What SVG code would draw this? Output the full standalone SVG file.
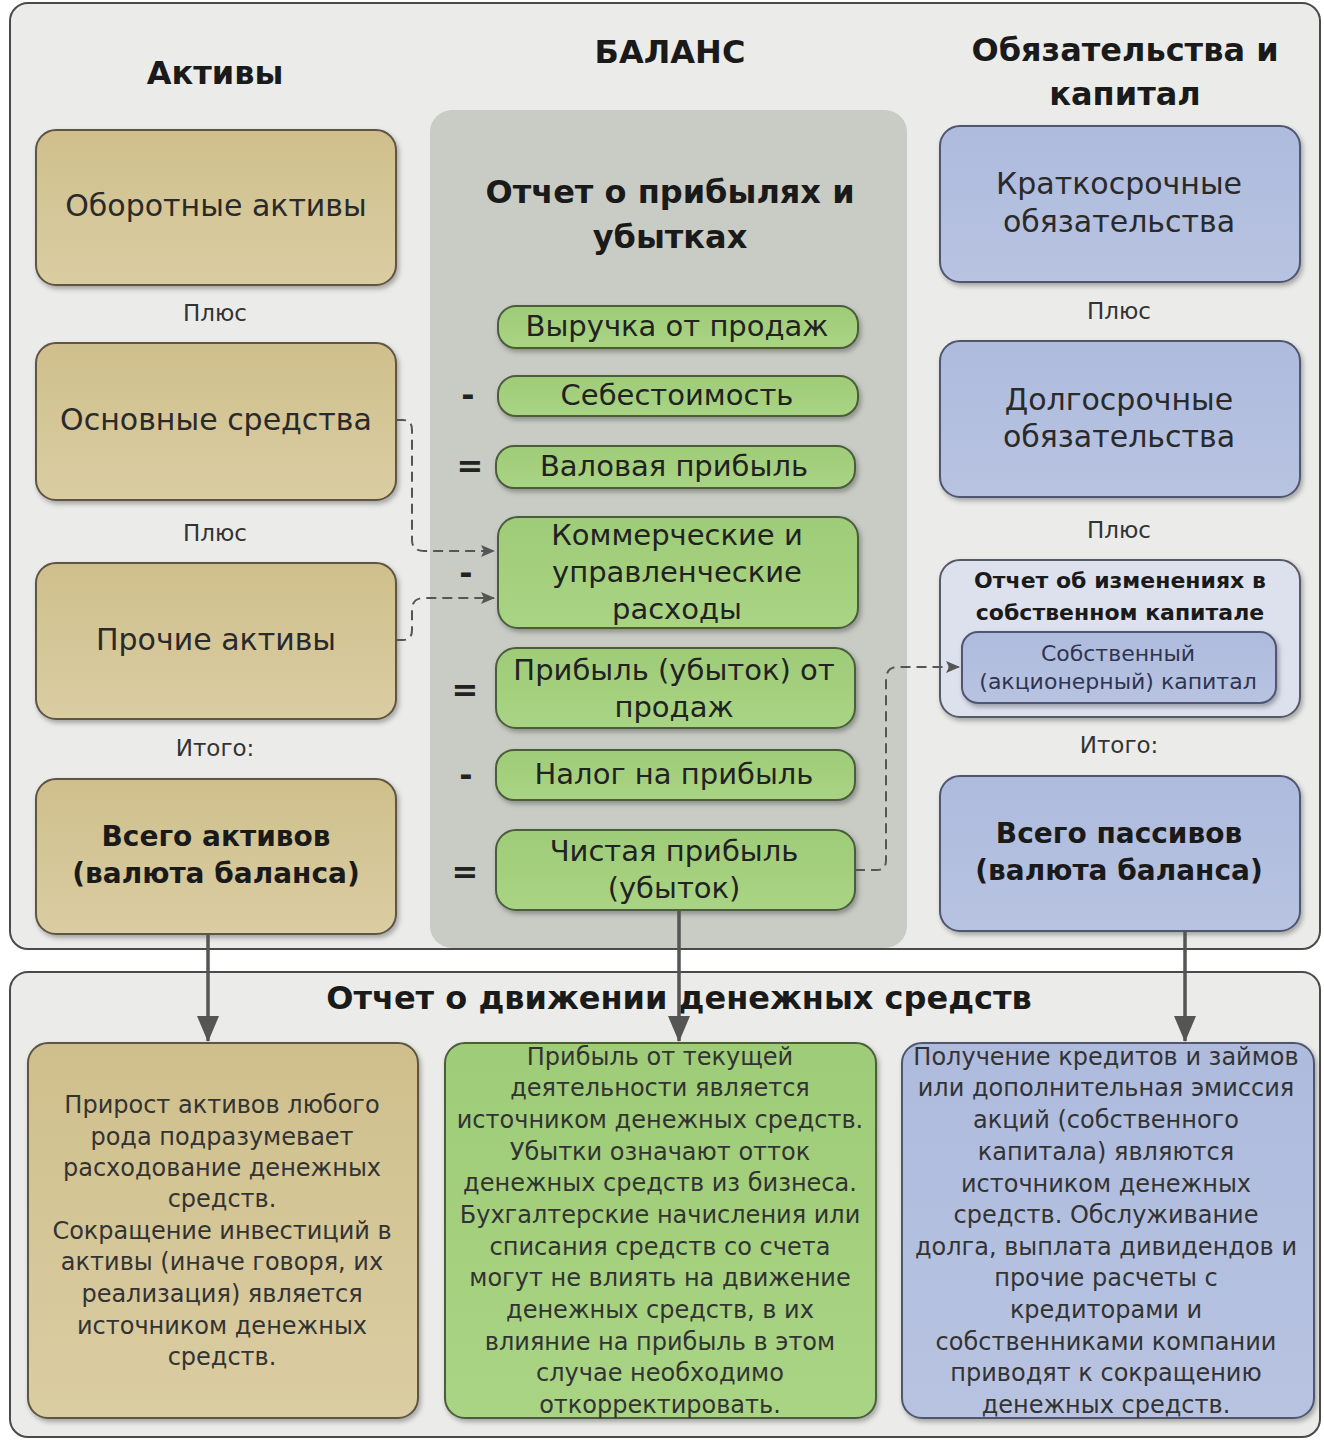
<svg xmlns="http://www.w3.org/2000/svg" width="1324" height="1440" viewBox="0 0 1324 1440">
<defs>
<filter id="sh" x="-10%" y="-10%" width="125%" height="130%">
<feDropShadow dx="2" dy="3" stdDeviation="2.5" flood-color="#000" flood-opacity="0.3"/>
</filter>
<linearGradient id="tan" x1="0" y1="0" x2="0" y2="1">
<stop offset="0" stop-color="#cfbf8c"/><stop offset="1" stop-color="#dacda2"/>
</linearGradient>
<linearGradient id="grn" x1="0" y1="0" x2="0" y2="1">
<stop offset="0" stop-color="#9fcc78"/><stop offset="1" stop-color="#a9d484"/>
</linearGradient>
<linearGradient id="blu" x1="0" y1="0" x2="0" y2="1">
<stop offset="0" stop-color="#aebbdd"/><stop offset="1" stop-color="#b8c3e1"/>
</linearGradient>
<marker id="ah" markerUnits="userSpaceOnUse" markerWidth="26" markerHeight="22" refX="25" refY="11" orient="auto" viewBox="0 0 26 22">
<path d="M0,0 L26,11 L0,22 Z" fill="#555"/>
</marker>
<marker id="dh" markerUnits="userSpaceOnUse" markerWidth="14" markerHeight="12" refX="13" refY="6" orient="auto" viewBox="0 0 14 12">
<path d="M0,0 L14,6 L0,12 L3,6 Z" fill="#555"/>
</marker>
</defs>
<style>
text{font-family:"DejaVu Sans","Noto Sans",sans-serif;text-anchor:middle;fill:#262626}
.h{font-weight:bold;font-size:32px;fill:#1a1a1a}
.bx{font-size:30px;fill:#2a2a2a}
.bb{font-weight:bold;font-size:28px;fill:#1a1a1a}
.sm{font-size:23px;fill:#333}
.pl{font-size:29px;fill:#222}
.op{font-weight:bold;font-size:32px;fill:#222}
.tx{font-size:24px;fill:#333}
.eqb{font-weight:bold;font-size:22px;fill:#1a1a1a}
.eqs{font-size:22px;fill:#2f3550}
.tan{fill:url(#tan);stroke:#5e5443;stroke-width:2;filter:url(#sh)}
.grn{fill:url(#grn);stroke:#4b5d3d;stroke-width:2;filter:url(#sh)}
.blu{fill:url(#blu);stroke:#4f5670;stroke-width:2;filter:url(#sh)}
.dash{fill:none;stroke:#555;stroke-width:2;stroke-dasharray:10 6}
.solid{fill:none;stroke:#555;stroke-width:3.5}
</style>
<rect width="1324" height="1440" fill="#fff"/>
<g id="balance-panel">
<rect x="10" y="3" width="1310" height="946" rx="18" fill="#ebece9" stroke="#4a4a4a" stroke-width="2"/>
<text class="h" x="215" y="84">Активы</text>
<text class="h" x="670" y="63">БАЛАНС</text>
<text class="h" x="1125" y="61">Обязательства и</text>
<text class="h" x="1125" y="105">капитал</text>
</g>
<g id="pnl-panel">
<rect x="430" y="110" width="477" height="838" rx="22" fill="#c9ccc5"/>
<text class="h" x="670" y="203">Отчет о прибылях и</text>
<text class="h" x="670" y="248">убытках</text>
</g>
<g id="cash-panel">
<rect x="10" y="972" width="1310" height="465" rx="18" fill="#ebece9" stroke="#4a4a4a" stroke-width="2"/>
<text class="h" x="679" y="1009">Отчет о движении денежных средств</text>
</g>
<g id="current-assets">
<rect class="tan" x="36" y="130" width="360" height="155" rx="20"/>
<text class="bx" x="216" y="216">Оборотные активы</text>
</g>
<text class="sm" x="215" y="321">Плюс</text>
<g id="fixed-assets">
<rect class="tan" x="36" y="343" width="360" height="157" rx="20"/>
<text class="bx" x="216" y="430">Основные средства</text>
</g>
<text class="sm" x="215" y="541">Плюс</text>
<g id="other-assets">
<rect class="tan" x="36" y="563" width="360" height="156" rx="20"/>
<text class="bx" x="216" y="650">Прочие активы</text>
</g>
<text class="sm" x="215" y="756">Итого:</text>
<g id="total-assets">
<rect class="tan" x="36" y="779" width="360" height="155" rx="20"/>
<text class="bb" x="216" y="846">Всего активов</text>
<text class="bb" x="216" y="883">(валюта баланса)</text>
</g>
<g id="short-liab">
<rect class="blu" x="940" y="126" width="360" height="156" rx="20"/>
<text class="bx" x="1119" y="194">Краткосрочные</text>
<text class="bx" x="1119" y="232">обязательства</text>
</g>
<text class="sm" x="1119" y="319">Плюс</text>
<g id="long-liab">
<rect class="blu" x="940" y="341" width="360" height="156" rx="20"/>
<text class="bx" x="1119" y="410">Долгосрочные</text>
<text class="bx" x="1119" y="447">обязательства</text>
</g>
<text class="sm" x="1119" y="538">Плюс</text>
<g id="equity-statement">
<rect x="940" y="560" width="360" height="157" rx="20" fill="#dde1ee" stroke="#555a66" stroke-width="2" filter="url(#sh)"/>
<text class="eqb" x="1120" y="588">Отчет об изменениях в</text>
<text class="eqb" x="1120" y="620">собственном капитале</text>
</g>
<g id="equity">
<rect class="blu" x="962" y="632" width="314" height="71" rx="16"/>
<text class="eqs" x="1118" y="661">Собственный</text>
<text class="eqs" x="1118" y="689">(акционерный) капитал</text>
</g>
<text class="sm" x="1119" y="753">Итого:</text>
<g id="total-liab">
<rect class="blu" x="940" y="776" width="360" height="155" rx="20"/>
<text class="bb" x="1119" y="843">Всего пассивов</text>
<text class="bb" x="1119" y="880">(валюта баланса)</text>
</g>
<g id="revenue">
<rect class="grn" x="498" y="306" width="360" height="42" rx="18"/>
<text class="pl" x="677" y="336">Выручка от продаж</text>
</g>
<g id="cogs">
<text class="op" x="468" y="406">-</text>
<rect class="grn" x="498" y="376" width="360" height="40" rx="18"/>
<text class="pl" x="677" y="405">Себестоимость</text>
</g>
<g id="gross">
<text class="op" x="470" y="477">=</text>
<rect class="grn" x="496" y="446" width="359" height="42" rx="18"/>
<text class="pl" x="674" y="476">Валовая прибыль</text>
</g>
<g id="sga">
<text class="op" x="466" y="584">-</text>
<rect class="grn" x="498" y="517" width="360" height="111" rx="20"/>
<text class="pl" x="677" y="545">Коммерческие и</text>
<text class="pl" x="677" y="582">управленческие</text>
<text class="pl" x="677" y="619">расходы</text>
</g>
<g id="op-profit">
<text class="op" x="465" y="701">=</text>
<rect class="grn" x="496" y="648" width="359" height="80" rx="20"/>
<text class="pl" x="674" y="680">Прибыль (убыток) от</text>
<text class="pl" x="674" y="717">продаж</text>
</g>
<g id="tax">
<text class="op" x="466" y="786">-</text>
<rect class="grn" x="496" y="750" width="359" height="50" rx="18"/>
<text class="pl" x="674" y="784">Налог на прибыль</text>
</g>
<g id="net-profit">
<text class="op" x="465" y="883">=</text>
<rect class="grn" x="496" y="830" width="359" height="80" rx="20"/>
<text class="pl" x="674" y="861">Чистая прибыль</text>
<text class="pl" x="674" y="898">(убыток)</text>
</g>
<g id="cf-assets">
<rect class="tan" x="28" y="1043" width="390" height="375" rx="20"/>
<text class="tx" x="222" y="1113">Прирост активов любого</text>
<text class="tx" x="222" y="1145">рода подразумевает</text>
<text class="tx" x="222" y="1176">расходование денежных</text>
<text class="tx" x="222" y="1207">средств.</text>
<text class="tx" x="222" y="1239">Сокращение инвестиций в</text>
<text class="tx" x="222" y="1270">активы (иначе говоря, их</text>
<text class="tx" x="222" y="1302">реализация) является</text>
<text class="tx" x="222" y="1334">источником денежных</text>
<text class="tx" x="222" y="1365">средств.</text>
</g>
<g id="cf-profit">
<rect class="grn" x="445" y="1043" width="431" height="375" rx="20"/>
<text class="tx" x="660" y="1065">Прибыль от текущей</text>
<text class="tx" x="660" y="1096">деятельности является</text>
<text class="tx" x="660" y="1128">источником денежных средств.</text>
<text class="tx" x="660" y="1160">Убытки означают отток</text>
<text class="tx" x="660" y="1191">денежных средств из бизнеса.</text>
<text class="tx" x="660" y="1223">Бухгалтерские начисления или</text>
<text class="tx" x="660" y="1255">списания средств со счета</text>
<text class="tx" x="660" y="1286">могут не влиять на движение</text>
<text class="tx" x="660" y="1318">денежных средств, в их</text>
<text class="tx" x="660" y="1350">влияние на прибыль в этом</text>
<text class="tx" x="660" y="1381">случае необходимо</text>
<text class="tx" x="660" y="1413">откорректировать.</text>
</g>
<g id="cf-liab">
<rect class="blu" x="902" y="1043" width="412" height="375" rx="20"/>
<text class="tx" x="1106" y="1065">Получение кредитов и займов</text>
<text class="tx" x="1106" y="1096">или дополнительная эмиссия</text>
<text class="tx" x="1106" y="1128">акций (собственного</text>
<text class="tx" x="1106" y="1160">капитала) являются</text>
<text class="tx" x="1106" y="1192">источником денежных</text>
<text class="tx" x="1106" y="1223">средств. Обслуживание</text>
<text class="tx" x="1106" y="1255">долга, выплата дивидендов и</text>
<text class="tx" x="1106" y="1286">прочие расчеты с</text>
<text class="tx" x="1106" y="1318">кредиторами и</text>
<text class="tx" x="1106" y="1350">собственниками компании</text>
<text class="tx" x="1106" y="1381">приводят к сокращению</text>
<text class="tx" x="1106" y="1413">денежных средств.</text>
</g>
<g id="connectors">
<path class="dash" d="M396,420 H403 Q412,420 412,430 V540 Q412,551 424,551 H494" marker-end="url(#dh)"/>
<path class="dash" d="M396,640 H403 Q412,640 412,630 V610 Q412,598 424,598 H494" marker-end="url(#dh)"/>
<path class="dash" d="M855,870 H877 Q886,870 886,860 V680 Q886,667 898,667 H959" marker-end="url(#dh)"/>
<path class="solid" d="M208,934 V1041" marker-end="url(#ah)"/>
<path class="solid" d="M679,910 V1041" marker-end="url(#ah)"/>
<path class="solid" d="M1185,931 V1041" marker-end="url(#ah)"/>
</g>
</svg>
